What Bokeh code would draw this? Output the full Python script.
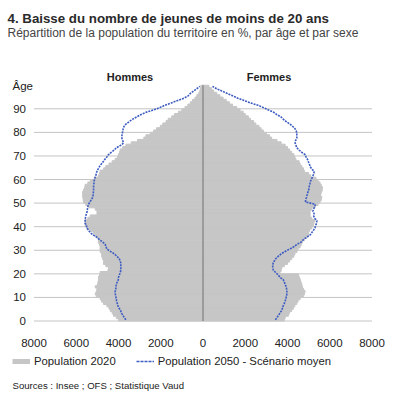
from bokeh.plotting import figure
from bokeh.models import Range1d, Label, Legend, LegendItem, ColumnDataSource
from bokeh.embed import file_html
from bokeh.resources import INLINE
from bokeh.core.properties import value

# ---------------- data ----------------
ages = list(range(100))

men_2020 = [
    4000, 4100, 4240, 4300, 4390, 4450, 4550, 4710, 4800, 4870,   # 0-9
    5050, 5100, 5050, 5020, 5100, 5000, 4970, 4950, 4950, 4900,   # 10-19
    4870, 4500, 4470, 4600, 4710, 4700, 4750, 4790, 4800, 4870,   # 20-29
    4870, 4870, 4900, 4950, 4950, 5000, 5100, 5200, 5340, 5500,   # 30-39
    5580, 5580, 5580, 5450, 5340, 5020, 5020, 5100, 5400, 5550,   # 40-49
    5660, 5670, 5690, 5700, 5700, 5650, 5600, 5580, 5450, 5330,   # 50-59
    5150, 4950, 4900, 4870, 4700, 4600, 4450, 4300, 4160, 4050,   # 60-69
    4000, 3950, 3920, 3800, 3650, 3400, 3100, 2800, 2700, 2500,   # 70-79
    2340, 2200, 2020, 1900, 1750, 1650, 1480, 1350, 1160, 1000,   # 80-89
    850, 720, 600, 500, 380, 290, 200, 150, 120, 100,             # 90-99
]

women_2020 = [
    3850, 3890, 4040, 4100, 4200, 4280, 4350, 4440, 4500, 4600,   # 0-9
    4750, 4800, 4830, 4750, 4700, 4680, 4640, 4600, 4560, 4520,   # 10-19
    3650, 3700, 3730, 3850, 4000, 4100, 4200, 4300, 4350, 4450,   # 20-29
    4500, 4600, 4650, 4700, 4800, 4900, 4990, 5000, 5050, 5150,   # 30-39
    5230, 5250, 5300, 5150, 5070, 5070, 5070, 5150, 5300, 5450,   # 40-49
    5540, 5600, 5620, 5560, 5600, 5640, 5650, 5600, 5540, 5450,   # 50-59
    5350, 5100, 5000, 4800, 4750, 4680, 4600, 4550, 4400, 4350,   # 60-69
    4300, 4200, 4100, 4000, 3890, 3700, 3500, 3250, 3150, 3000,   # 70-79
    2860, 2750, 2650, 2500, 2400, 2250, 2150, 2000, 1900, 1750,   # 80-89
    1600, 1400, 1250, 1100, 950, 800, 650, 500, 400, 280,         # 90-99
]

men_2050 = [
    3650, 3730, 3800, 3870, 3900, 3980, 4030, 4060, 4090, 4110,   # 0-9
    4130, 4150, 4160, 4130, 4120, 4110, 4060, 4010, 4000, 3960,   # 10-19
    3920, 3890, 3890, 3890, 3890, 3920, 3970, 4080, 4200, 4380,   # 20-29
    4550, 4590, 4630, 4750, 4900, 5020, 5200, 5340, 5420, 5500,   # 30-39
    5520, 5580, 5580, 5570, 5550, 5520, 5480, 5470, 5450, 5420,   # 40-49
    5350, 5280, 5220, 5200, 5190, 5180, 5180, 5180, 5160, 5150,   # 50-59
    5120, 5080, 5050, 5020, 4960, 4900, 4820, 4730, 4650, 4560,   # 60-69
    4480, 4350, 4200, 4100, 3900, 3760, 3800, 3840, 3840, 3820,   # 70-79
    3800, 3780, 3740, 3650, 3500, 3350, 3150, 2950, 2700, 2350,   # 80-89
    2050, 1800, 1500, 1200, 900, 700, 600, 450, 300, 150,         # 90-99
]

women_2050 = [
    3430, 3500, 3580, 3650, 3730, 3760, 3800, 3850, 3890, 3920,   # 0-9
    3950, 3970, 3970, 3960, 3940, 3890, 3850, 3800, 3650, 3560,   # 10-19
    3450, 3330, 3300, 3300, 3320, 3380, 3450, 3570, 3700, 3890,   # 20-29
    4100, 4300, 4450, 4650, 4750, 4900, 5070, 5150, 5230, 5300,   # 30-39
    5330, 5380, 5390, 5300, 5240, 5260, 5200, 5230, 5300, 5310,   # 40-49
    4850, 4860, 4900, 4930, 4960, 5000, 5020, 5040, 5070, 5100,   # 50-59
    5150, 5200, 5250, 5260, 5150, 5070, 5040, 4990, 4950, 4880,   # 60-69
    4840, 4680, 4550, 4440, 4400, 4360, 4380, 4440, 4440, 4440,   # 70-79
    4420, 4360, 4250, 4120, 3950, 3810, 3700, 3500, 3350, 3100,   # 80-89
    2860, 2600, 2250, 1950, 1650, 1400, 1150, 900, 650, 450,      # 90-99
]

x_ticks = [-8000, -6000, -4000, -2000, 0, 2000, 4000, 6000, 8000]
x_tick_labels = ["8000", "6000", "4000", "2000", "0", "2000", "4000", "6000", "8000"]
y_ticks = [0, 10, 20, 30, 40, 50, 60, 70, 80, 90]
y_tick_labels = [str(t) for t in y_ticks]

title_text = "4. Baisse du nombre de jeunes de moins de 20 ans"
subtitle_text = "Répartition de la population du territoire en %, par âge et par sexe"
men_label = "Hommes"
women_label = "Femmes"
y_title = "Âge"
legend_2020 = "Population 2020"
legend_2050 = "Population 2050 - Scénario moyen"
source_text = "Sources : Insee ; OFS ; Statistique Vaud"

# ---------------- layout (pixels) ----------------
W, H = 393, 394
X_LEFT_PX, X_RIGHT_PX = 33.5, 371.5        # where -8000 / +8000 fall
Y0_PX, Y90_PX = 320.5, 108.3               # where age 0 / age 90 fall
px_per_unit = (X_RIGHT_PX - X_LEFT_PX) / (x_ticks[-1] - x_ticks[0])
px_per_year = (Y0_PX - Y90_PX) / 90.0
x_start = x_ticks[0] - X_LEFT_PX / px_per_unit
x_end = x_ticks[-1] + (W - X_RIGHT_PX) / px_per_unit
y_start = -(H - Y0_PX) / px_per_year
y_end = Y0_PX / px_per_year

def data_x(px):
    return x_start + px / px_per_unit

def data_y(py):
    return (Y0_PX - py) / px_per_year

# ---------------- style ----------------
FONT = "Liberation Sans"
GRAY = "#c6c6c6"
BLUE = "#3d5cc2"
TEXT = "#222222"
GRID = "#c4c4c4"
NAN = float("nan")

src = ColumnDataSource(dict(
    y=[a + 0.5 for a in ages],
    men_left=[-v for v in men_2020],
    women_right=women_2020,
    men_50=[-v for v in men_2050],
    women_50=women_2050,
))

p = figure(width=W, height=H, output_backend="svg", toolbar_location=None,
           x_range=Range1d(x_start, x_end), y_range=Range1d(y_start, y_end),
           x_axis_location=None, y_axis_location=None,
           min_border=0)
p.outline_line_color = None
p.xgrid.visible = False
p.ygrid.visible = False
p.background_fill_color = "white"
p.border_fill_color = "white"

# grid lines (under the bars)
p.segment(x0=[x_ticks[0]] * len(y_ticks), x1=[x_ticks[-1]] * len(y_ticks),
          y0=y_ticks, y1=y_ticks, line_color=GRID, line_width=1)

# bars
p.hbar(y="y", left="men_left", right=0, height=1, source=src,
       fill_color=GRAY, line_color=GRAY, line_width=1)
p.hbar(y="y", left=0, right="women_right", height=1, source=src,
       fill_color=GRAY, line_color=GRAY, line_width=1)

# 2050 lines
p.line(x="men_50", y="y", source=src, line_color=BLUE, line_width=1.6, line_dash="2 1")
p.line(x="women_50", y="y", source=src, line_color=BLUE, line_width=1.6, line_dash="2 1")

# central axis line
p.segment(x0=[0], x1=[0], y0=[0], y1=[len(ages)], line_color="#707070", line_width=1)

# tick labels
p.text(x=x_ticks, y=[data_y(342)] * len(x_ticks), text=x_tick_labels,
       text_font=value(FONT), text_font_size="11.5px", text_color=TEXT,
       text_align="center", text_baseline="alphabetic")
p.text(x=[data_x(25.5)] * len(y_ticks), y=y_ticks, text=y_tick_labels,
       text_font=value(FONT), text_font_size="11.5px", text_color=TEXT,
       text_align="right", text_baseline="middle")

# texts
def add_label(text, px, py, size, bold=False, color=TEXT, align="left"):
    p.add_layout(Label(text=text, x=px, y=H - py, x_units="screen", y_units="screen",
                       text_font=FONT, text_font_size=size,
                       text_font_style="bold" if bold else "normal",
                       text_color=color, text_align=align, text_baseline="alphabetic"))

add_label(title_text, 7, 17.5, "13.3px", bold=True, color="#2a2a2a")
add_label(subtitle_text, 7, 32, "12px", color="#444444")
add_label(men_label, 129.5, 76, "11px", bold=True, align="center")
add_label(women_label, 268.5, 76, "11px", bold=True, align="center")
add_label(y_title, 12, 85.5, "11.5px")
add_label(source_text, 12, 385, "9.6px")

# legend keys (renderers with no visible point, used only by the legend)
r_leg1 = p.line(x=[NAN], y=[NAN], line_color=GRAY, line_width=5)
r_leg2 = p.line(x=[NAN], y=[NAN], line_color=BLUE, line_width=1.5, line_dash="3 1")
legend = Legend(items=[LegendItem(label=legend_2020, renderers=[r_leg1]),
                       LegendItem(label=legend_2050, renderers=[r_leg2])],
                location=(12, H - 367), orientation="horizontal",
                glyph_width=18, glyph_height=12, label_height=12, label_standoff=4,
                spacing=20, padding=0, margin=0,
                border_line_color=None, background_fill_alpha=0,
                label_text_font=FONT, label_text_font_size="11.3px",
                label_text_color=TEXT)
p.add_layout(legend)

open("out.html", "w").write(file_html(p, INLINE))
